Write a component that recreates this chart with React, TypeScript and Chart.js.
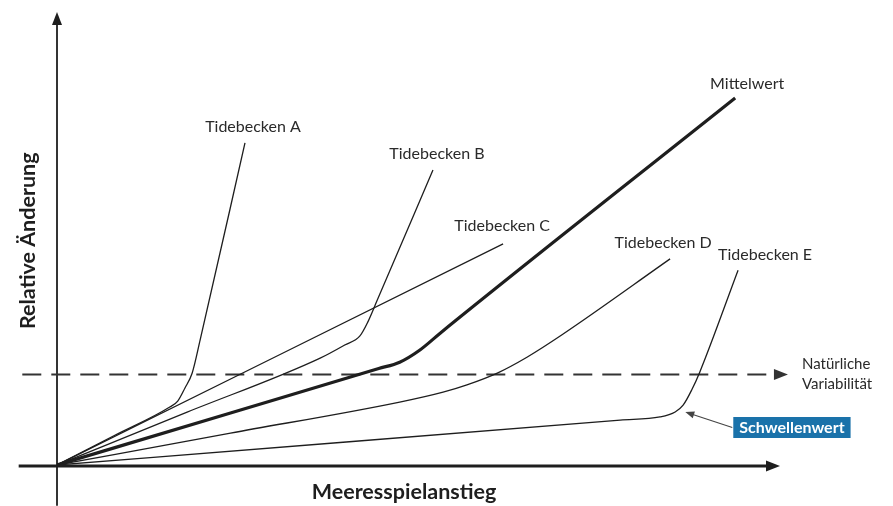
import React, { useEffect, useRef } from "react";
import { Chart, registerables } from "chart.js";

Chart.register(...registerables);

// ---------- data (arbitrary relative units) ----------
const X_TITLE = "Meeresspielanstieg";
const Y_TITLE = "Relative Änderung";
const SERIES_NAMES = ["Tidebecken A", "Tidebecken B", "Tidebecken C", "Tidebecken D", "Tidebecken E", "Mittelwert"];

const tidebeckenA = [
  { x: 0, y: 0 }, { x: 8, y: 6.56 }, { x: 15.6, y: 12.8 }, { x: 16.7, y: 14.1 }, { x: 17.7, y: 17.0 },
  { x: 18.7, y: 20.3 }, { x: 19.8, y: 27.6 }, { x: 26.0, y: 71.1 },
];
const tidebeckenB = [
  { x: 0, y: 0 }, { x: 18, y: 11.67 }, { x: 36.4, y: 23.6 }, { x: 39.8, y: 26.5 }, { x: 41.9, y: 28.5 },
  { x: 43.0, y: 31.6 }, { x: 44.3, y: 36.4 }, { x: 52.0, y: 65.1 },
];
const tidebeckenC = [{ x: 0, y: 0 }, { x: 61.7, y: 48.8 }];
const tidebeckenD = [
  { x: 0, y: 0 }, { x: 24, y: 7.04 }, { x: 47.4, y: 13.9 }, { x: 53.4, y: 16.1 }, { x: 56.7, y: 17.7 },
  { x: 60.9, y: 20.3 }, { x: 65.0, y: 23.8 }, { x: 69.8, y: 28.7 }, { x: 84.8, y: 45.5 },
];
const tidebeckenE = [
  { x: 0, y: 0 }, { x: 40, y: 5.08 }, { x: 77.9, y: 9.9 }, { x: 83.4, y: 10.6 }, { x: 85.5, y: 11.7 },
  { x: 86.6, y: 13.2 }, { x: 87.8, y: 16.6 }, { x: 88.9, y: 20.5 }, { x: 94.2, y: 43.0 },
];
const mittelwert = [
  { x: 0, y: 0 }, { x: 24, y: 11.49 }, { x: 44.5, y: 21.3 }, { x: 47.4, y: 22.7 }, { x: 50.2, y: 25.4 },
  { x: 53.0, y: 29.1 }, { x: 93.8, y: 81.0 },
];
const SERIES = [tidebeckenA, tidebeckenB, tidebeckenC, tidebeckenD, tidebeckenE, mittelwert];

const NATURAL_VARIABILITY = 20; // dashed threshold level
const NATURAL_LABEL = ["Natürliche", "Variabilität"];
const THRESHOLD_LABEL = "Schwellenwert";
const THRESHOLD_POINT = { x: 86.9, y: 11.7 };

// axis extents (data units)
const X_AXIS_RANGE = [-5.3, 100];
const Y_AXIS_RANGE = [-9, 100];
const DASH_RANGE = [-4.8, 101.1];

// ---------- styles ----------
const LINE_COLOR = "#1e1e1e";
const TEXT_COLOR = "#2a2a2a";
const BOX_COLOR = "#1a72aa";
const FONT = "Lato, 'Open Sans', sans-serif";
const LABEL_OFFSETS = [[8, -16], [4, -16], [-1, -18], [-7, -16], [27, -15], [12, -14]];

function arrowHead(ctx: CanvasRenderingContext2D, tx: number, ty: number, dx: number, dy: number, len: number, half: number) {
  const l = Math.hypot(dx, dy);
  const ux = dx / l, uy = dy / l;
  const bx = tx - ux * len, by = ty - uy * len;
  ctx.beginPath();
  ctx.moveTo(tx, ty);
  ctx.lineTo(bx - uy * half, by + ux * half);
  ctx.lineTo(bx + uy * half, by - ux * half);
  ctx.closePath();
  ctx.fill();
}

const decorPlugin = {
  id: "decor",
  beforeDatasetsDraw(chart: any) {
    const { ctx, scales } = chart;
    const x = scales.x, y = scales.y;
    const X0 = x.getPixelForValue(0), Y0 = y.getPixelForValue(0);
    ctx.save();
    ctx.fillStyle = LINE_COLOR;
    ctx.strokeStyle = LINE_COLOR;
    // y axis
    const yTop = y.getPixelForValue(Y_AXIS_RANGE[1]);
    ctx.lineWidth = 1.8;
    ctx.beginPath();
    ctx.moveTo(X0, y.getPixelForValue(Y_AXIS_RANGE[0]));
    ctx.lineTo(X0, yTop + 10);
    ctx.stroke();
    arrowHead(ctx, X0, yTop, 0, -1, 13, 5);
    // x axis
    const xEnd = x.getPixelForValue(X_AXIS_RANGE[1]);
    ctx.lineWidth = 3;
    ctx.beginPath();
    ctx.moveTo(x.getPixelForValue(X_AXIS_RANGE[0]), Y0 + 1);
    ctx.lineTo(xEnd - 10, Y0 + 1);
    ctx.stroke();
    arrowHead(ctx, xEnd, Y0 + 1, 1, 0, 14, 5.5);
    // dashed natural variability
    const yd = y.getPixelForValue(NATURAL_VARIABILITY);
    const dEnd = x.getPixelForValue(DASH_RANGE[1]);
    ctx.strokeStyle = "#333";
    ctx.fillStyle = "#333";
    ctx.lineWidth = 2;
    ctx.setLineDash([19, 10]);
    ctx.beginPath();
    ctx.moveTo(x.getPixelForValue(DASH_RANGE[0]), yd);
    ctx.lineTo(dEnd - 12, yd);
    ctx.stroke();
    ctx.setLineDash([]);
    arrowHead(ctx, dEnd, yd, 1, 0, 14, 5.5);
    ctx.restore();
  },
  afterDatasetsDraw(chart: any) {
    const { ctx, scales } = chart;
    const x = scales.x, y = scales.y;
    ctx.save();
    ctx.fillStyle = TEXT_COLOR;
    ctx.textAlign = "center";
    ctx.textBaseline = "middle";
    ctx.font = `16px ${FONT}`;
    SERIES.forEach((s, i) => {
      const end = s[s.length - 1];
      const px = x.getPixelForValue(end.x) + LABEL_OFFSETS[i][0];
      const py = y.getPixelForValue(end.y) + LABEL_OFFSETS[i][1];
      ctx.fillText(SERIES_NAMES[i], px, py);
    });
    // natural variability label
    const yd = y.getPixelForValue(NATURAL_VARIABILITY);
    const dEnd = x.getPixelForValue(DASH_RANGE[1]);
    ctx.textAlign = "left";
    ctx.font = `15px ${FONT}`;
    ctx.fillText(NATURAL_LABEL[0], dEnd + 14, yd - 10);
    ctx.fillText(NATURAL_LABEL[1], dEnd + 14, yd + 10);
    // threshold pointer + box
    const tx = x.getPixelForValue(THRESHOLD_POINT.x);
    const ty = y.getPixelForValue(THRESHOLD_POINT.y);
    const bx = tx + 48, bcy = ty + 15.5;
    ctx.strokeStyle = "#444";
    ctx.fillStyle = "#444";
    ctx.lineWidth = 1.1;
    ctx.beginPath();
    ctx.moveTo(bx - 1, bcy);
    ctx.lineTo(tx + 6, ty + 2);
    ctx.stroke();
    arrowHead(ctx, tx, ty, tx - (bx - 1), ty - bcy, 9, 3.5);
    ctx.font = `bold 16px ${FONT}`;
    const w = ctx.measureText(THRESHOLD_LABEL).width + 12;
    ctx.fillStyle = BOX_COLOR;
    ctx.fillRect(bx, bcy - 10.5, w, 21);
    ctx.fillStyle = "#ffffff";
    ctx.textAlign = "center";
    ctx.fillText(THRESHOLD_LABEL, bx + w / 2, bcy + 0.5);
    // axis titles
    ctx.fillStyle = "#1e1e1e";
    ctx.font = `bold 21.5px ${FONT}`;
    ctx.fillText(X_TITLE, x.getPixelForValue(48), chart.chartArea.bottom + 27);
    ctx.save();
    ctx.translate(chart.chartArea.left - 29, y.getPixelForValue(49.5));
    ctx.rotate(-Math.PI / 2);
    ctx.fillText(Y_TITLE, 0, 0);
    ctx.restore();
    ctx.restore();
  },
};

export default function App() {
  const ref = useRef<HTMLCanvasElement>(null);
  useEffect(() => {
    if (!ref.current) return;
    const chart = new Chart(ref.current, {
      type: "line",
      data: {
        datasets: SERIES.map((s, i) => ({
          label: SERIES_NAMES[i],
          data: s,
          borderColor: LINE_COLOR,
          borderWidth: i === 5 ? 3.2 : 1.3,
          pointRadius: 0,
          fill: false,
          cubicInterpolationMode: "monotone" as const,
        })),
      },
      options: {
        animation: false,
        responsive: false,
        events: [],
        layout: { padding: { left: 57, right: 113, top: 12, bottom: 41 } },
        scales: {
          x: { type: "linear", min: 0, max: 100, display: false },
          y: { type: "linear", min: 0, max: 100, display: false },
        },
        plugins: { legend: { display: false }, tooltip: { enabled: false } },
      },
      plugins: [decorPlugin],
    });
    return () => chart.destroy();
  }, []);
  return (
    <div style={{ position: "fixed", left: 0, top: 0, width: 893, height: 506, background: "#fff" }}>
      <canvas ref={ref} width={893} height={506} />
    </div>
  );
}
